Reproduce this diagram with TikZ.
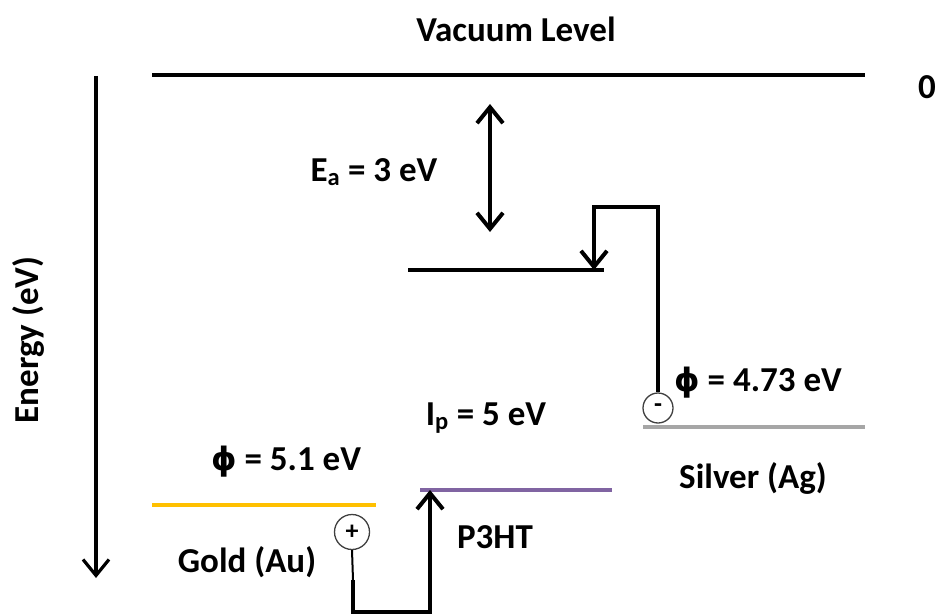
\documentclass[tikz,border=0pt]{standalone}
\usepackage{fontspec}
\setmainfont{Carlito}
\newfontfamily\phifont[Scale=0.92]{DejaVu Sans}
\newcommand{\myphi}{{\phifont\bfseries ϕ}}
\usetikzlibrary{arrows.meta}
\definecolor{goldc}{HTML}{FFC000}
\definecolor{purplec}{HTML}{8064A2}
\definecolor{silverc}{HTML}{A6A6A6}
\definecolor{ringc}{HTML}{404040}
\begin{document}
\begin{tikzpicture}[x=1pt,y=-1pt,
  lbl/.style={font=\fontsize{35}{42}\selectfont\bfseries, inner sep=0pt},
  level/.style={line width=4.5pt},
  conn/.style={line width=4pt},
  barb/.style={-{Straight Barb[length=16pt,width=26pt]}},
  dbarb/.style={{Straight Barb[length=16pt,width=26pt]}-{Straight Barb[length=16pt,width=26pt]}},
  charge/.style={circle, draw=ringc, line width=1.3pt, inner sep=0pt, fill=white,
    font=\fontsize{26}{30}\selectfont\bfseries}]
\useasboundingbox (0,0) rectangle (939,615);

% labels
\node[lbl] (vac) at (516,29) {Vacuum Level};
\node[lbl] (zero) at (927,87) {0};
\node[lbl, rotate=90] (energy) at (28,340) {Energy (eV)};
\node[lbl] (ea) at (374,172) {E\textsubscript{a} = 3 eV};
\node[lbl] (phiag) at (758,383) {\myphi{} = 4.73 eV};
\node[lbl] (silver) at (753,478) {Silver (Ag)};
\node[lbl] (ip) at (486,418) {I\textsubscript{p} = 5 eV};
\node[lbl] (p3ht) at (495,537) {P3HT};
\node[lbl] (phiau) at (286,462) {\myphi{} = 5.1 eV};
\node[lbl] (gold) at (247,562) {Gold (Au)};

% energy levels
\coordinate (v1) at (152,75);  \coordinate (v2) at (865,75);
\coordinate (l1) at (408,270); \coordinate (l2) at (604,270);
\coordinate (s1) at (643,427); \coordinate (s2) at (865,427);
\coordinate (p1) at (420,490); \coordinate (p2) at (612,490);
\coordinate (g1) at (152,505); \coordinate (g2) at (376,505);
\draw[level] (v1) -- (v2);
\draw[level] (l1) -- (l2);
\draw[level, silverc] (s1) -- (s2);
\draw[level, purplec] (p1) -- (p2);
\draw[level, goldc] (g1) -- (g2);

% energy axis
\coordinate (e1) at (96,76); \coordinate (e2) at (96,578);
\draw[line width=3.2pt, barb] (e1) -- (e2);

% electron affinity arrow
\coordinate (da1) at (490,104); \coordinate (da2) at (490,232);
\draw[conn, dbarb] (da1) -- (da2);

% electron injection from silver
\node[charge, minimum size=30pt] (minus) at (658,408) {-};
\coordinate (c1) at (594,207);
\draw[conn, barb] (minus.north) |- (c1) -- (c1 |- l1);

% hole injection from gold
\node[charge, minimum size=35pt] (plus) at (352,532) {+};
\coordinate (k1) at (353,580);
\coordinate (k2) at (353,612);
\coordinate (k3) at (430,612);
\draw[line width=2pt] (plus.south) -- (k1);
\draw[conn, barb] (k1) -- (k2) -- (k3) -- (k3 |- p1);
\end{tikzpicture}
\end{document}
